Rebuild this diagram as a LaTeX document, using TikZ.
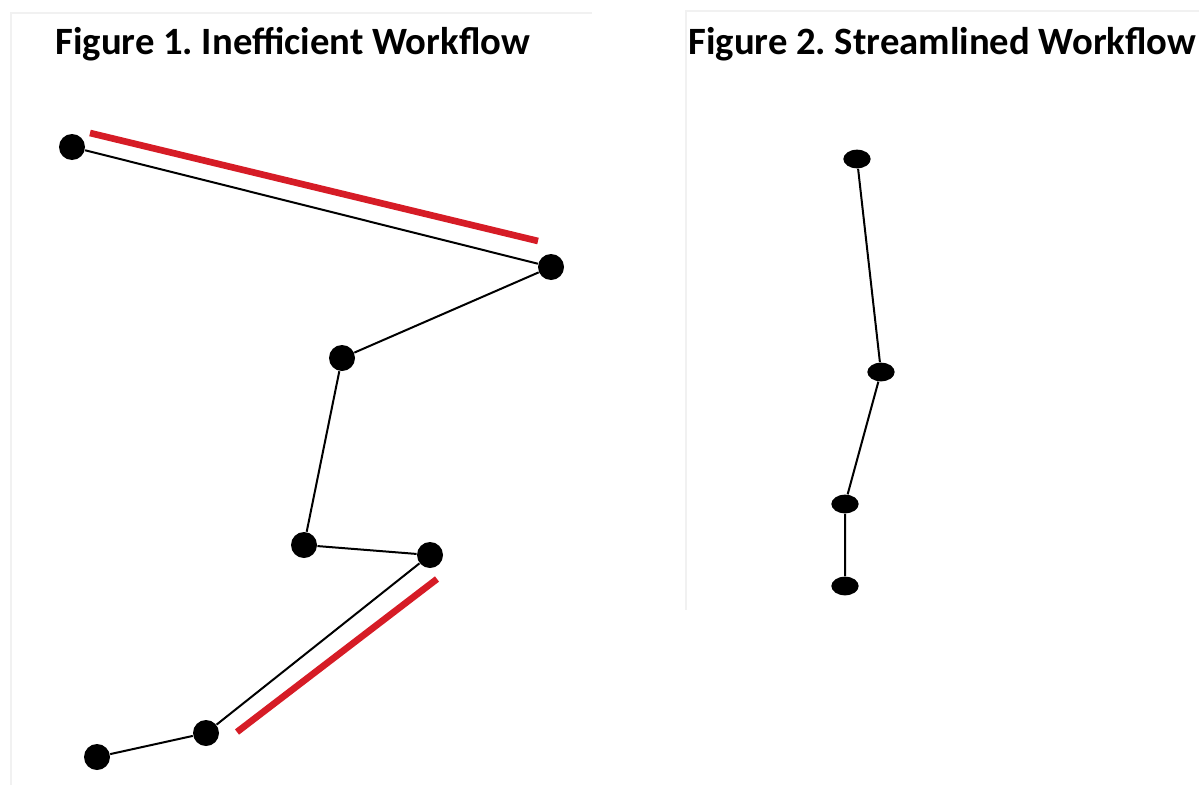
\documentclass[tikz,border=0pt]{standalone}
\usepackage{fontspec}
\setmainfont{Carlito}
\usetikzlibrary{shapes.geometric}
\frenchspacing

\definecolor{markred}{RGB}{214,28,38}
\definecolor{framegray}{RGB}{241,241,241}

\tikzset{every picture/.style={line width=0.75pt}}
\tikzset{
  stop/.style={circle,fill=black,inner sep=0pt,minimum size=19.5pt},
  flatstop/.style={ellipse,fill=black,inner sep=0pt,minimum width=20.5pt,minimum height=14pt},
  link/.style={draw=black,line width=1.5pt},
  detour/.style={draw=markred,line width=5pt},
  heading/.style={anchor=base west,inner sep=0pt,font=\bfseries\fontsize{29}{33}\selectfont}
}

\begin{document}
\begin{tikzpicture}[x=0.75pt,y=0.75pt,yscale=-1,xscale=1]
\useasboundingbox (0,0) rectangle (1199,785);

%Frames
\draw [color=framegray,line width=1.5pt] (11,785) -- (11,13) -- (592,13) ;
\draw [color=framegray,line width=1.5pt] (686,610) -- (686,11) -- (1199,11) ;

% Text Node
\node [heading] (title1) at (55,54) {Figure 1. Inefficient Workflow};
% Text Node
\node [heading] (title2) at (688,54) {Figure 2. Streamlined Workflow};

%Left path stops
\node [stop] (a1) at (72,147) {};
\node [stop] (a2) at (551,267) {};
\node [stop] (a3) at (342,358) {};
\node [stop] (a4) at (304,545) {};
\node [stop] (a5) at (430,555) {};
\node [stop] (a6) at (206,733) {};
\node [stop] (a7) at (97,757) {};

%Left path links
\draw [link] (a1) -- (a2) -- (a3) -- (a4) -- (a5) -- (a6) -- (a7) ;

%Red marks
\draw [detour] (90,133) -- (538,241) ;
\draw [detour] (437,579) -- (237,732) ;

%Right path stops
\node [flatstop] (b1) at (857,159) {};
\node [flatstop] (b2) at (881,372) {};
\node [flatstop] (b3) at (845,504) {};
\node [flatstop] (b4) at (845,586) {};

%Right path links
\draw [link] (b1) -- (b2) -- (b3) -- (b4) ;

\end{tikzpicture}
\end{document}
